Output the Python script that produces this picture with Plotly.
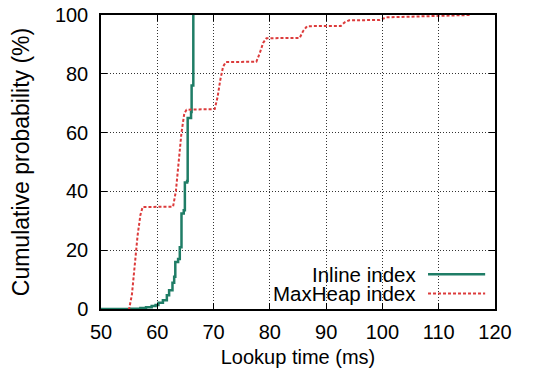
import plotly.graph_objects as go

# ---- data ----
inline_x = [50, 55.3, 57, 58, 59, 59.7, 60.2, 61.0, 61.7, 62.1, 62.7, 63.0, 63.2,
            63.7, 64.0, 64.3, 64.7, 64.9, 65.3, 65.4, 66.0, 66.1, 66.4]
inline_y = [0, 0.1, 0.3, 0.6, 1.0, 1.4, 2.1, 3.0, 4.7, 6.4, 8.9, 11.0, 16.0,
            17.0, 21.0, 32.5, 33.6, 43.0, 43.5, 65.0, 67.0, 76.0, 100]

maxheap_x = [54.8, 55.0, 55.5, 56.0, 56.5, 57.0, 57.4,
             62.8, 63.3, 63.8, 64.3, 64.8, 65.2,
             70.2, 70.7, 71.2, 71.7, 72.2,
             77.6, 78.2, 78.8, 79.4,
             85.3, 85.9, 86.6,
             92.6, 93.3, 94.1,
             99.5, 100.7, 104, 108, 112, 115.5]
maxheap_y = [0, 0, 5, 15, 25, 32, 34.7,
             34.8, 40, 50, 60, 66.5, 67.8,
             68.0, 72, 78, 82.5, 84.0,
             84.1, 87, 90.5, 92.1,
             92.2, 94.5, 96.2,
             96.3, 97.5, 98.2,
             98.3, 99.2, 99.4, 99.7, 99.9, 100]

series_names = ["Inline index", "MaxHeap index"]
x_ticks = [50, 60, 70, 80, 90, 100, 110, 120]
y_ticks = [0, 20, 40, 60, 80, 100]

GREEN = "#1f7d66"
RED = "#dc3b3b"
FONT = "Liberation Sans, Arial, Helvetica, sans-serif"

fig = go.Figure()
fig.add_trace(go.Scatter(x=inline_x, y=inline_y, mode="lines", name=series_names[0],
                         line=dict(color=GREEN, width=2.5, shape="hv"), showlegend=False))
fig.add_trace(go.Scatter(x=maxheap_x, y=maxheap_y, mode="lines", name=series_names[1],
                         line=dict(color=RED, width=2, dash="3px,2px"), showlegend=False))

# manual gnuplot-style key (text on the left, sample on the right)
fig.add_shape(type="rect", xref="paper", yref="paper", x0=0.434, x1=0.997, y0=0.007, y1=0.156,
              fillcolor="white", line=dict(width=0), layer="between")
key_y = [0.118, 0.053]
key_style = [dict(color=GREEN, width=2.5), dict(color=RED, width=2, dash="3px,2px")]
for name, ky, st in zip(series_names, key_y, key_style):
    fig.add_annotation(text=name, xref="paper", yref="paper", x=0.803, y=ky,
                       xanchor="right", yanchor="middle", showarrow=False, borderpad=0,
                       font=dict(family=FONT, size=20.5, color="black"))
    fig.add_shape(type="line", xref="paper", yref="paper", x0=0.830, x1=0.975, y0=ky, y1=ky,
                  line=st)

axis_common = dict(showline=True, linecolor="black", linewidth=1.5, mirror="ticks",
                   ticks="inside", ticklen=6, tickwidth=1, tickcolor="black",
                   showgrid=True, gridcolor="#333333", gridwidth=1, griddash="1px,2px",
                   zeroline=False, automargin=False,
                   tickfont=dict(family=FONT, size=20, color="black"))

fig.update_xaxes(range=[50, 120], tickvals=x_ticks, ticktext=[str(v) for v in x_ticks],
                 title=dict(text="Lookup time (ms)", font=dict(family=FONT, size=20, color="black"),
                            standoff=9),
                 ticklabelstandoff=4, **axis_common)
fig.update_yaxes(range=[0, 100], tickvals=y_ticks, ticktext=[str(v) for v in y_ticks],
                 title=dict(text="Cumulative probability (%)",
                            font=dict(family=FONT, size=23, color="black"), standoff=19),
                 ticklabelstandoff=7, **axis_common)

fig.update_layout(width=537, height=368, margin=dict(l=101, r=42, t=15, b=59),
                  paper_bgcolor="white", plot_bgcolor="white",
                  font=dict(family=FONT, color="black"))

fig.write_html("out.html", config={"displayModeBar": False},
               post_script="document.body.style.margin='0';document.body.style.padding='0';")
